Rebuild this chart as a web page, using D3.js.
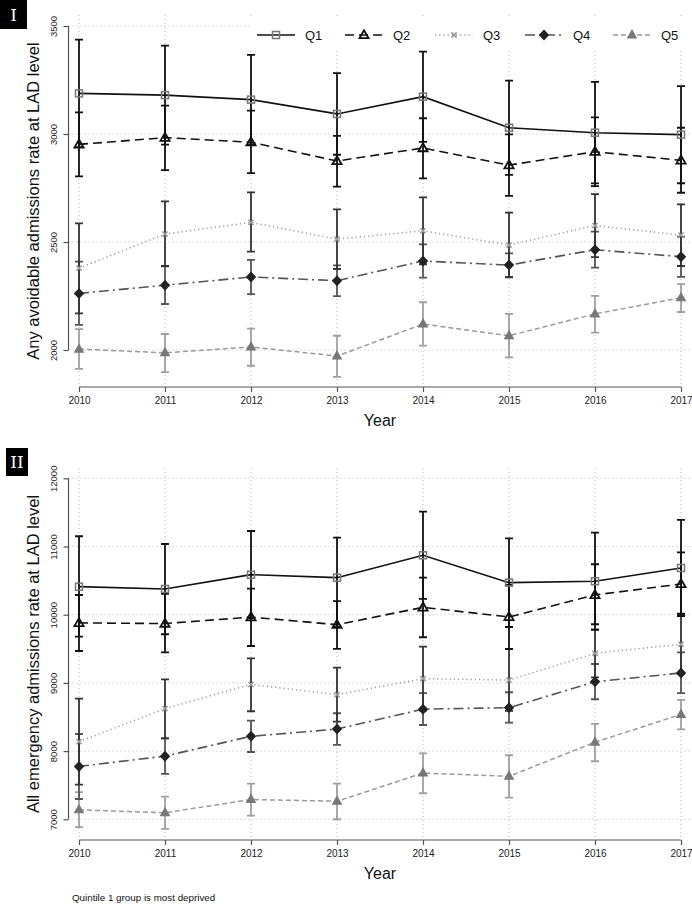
<!DOCTYPE html>
<html><head><meta charset="utf-8">
<script src="https://cdn.jsdelivr.net/npm/d3@7"></script>
<style>body{margin:0;background:#fff}svg{display:block}</style>
</head><body>
<svg id="c" width="692" height="904"></svg>
<script>
const years = [2010, 2011, 2012, 2013, 2014, 2015, 2016, 2017];
const quintiles = ["Q1", "Q2", "Q3", "Q4", "Q5"];

// Panel I: any avoidable admissions (mean, lower CI, upper CI)
const avoidMean = [
  [3188, 3180, 3159, 3093, 3173, 3029, 3006, 2997],
  [2952, 2983, 2962, 2875, 2935, 2856, 2918, 2878],
  [2379, 2537, 2591, 2513, 2552, 2486, 2576, 2532],
  [2262, 2300, 2338, 2321, 2412, 2393, 2464, 2432],
  [2004, 1987, 2014, 1972, 2120, 2066, 2167, 2242]
];
const avoidLo = [
  [2939, 2951, 2952, 2904, 2964, 2811, 2771, 2772],
  [2804, 2833, 2819, 2756, 2795, 2714, 2759, 2728],
  [2170, 2389, 2455, 2375, 2397, 2336, 2430, 2389],
  [2116, 2213, 2259, 2249, 2335, 2339, 2381, 2339],
  [1913, 1898, 1927, 1876, 2020, 1966, 2080, 2176]
];
const avoidHi = [
  [3437, 3409, 3366, 3282, 3381, 3247, 3241, 3222],
  [3100, 3131, 3108, 2991, 3073, 2998, 3077, 3029],
  [2586, 2688, 2730, 2651, 2707, 2636, 2722, 2674],
  [2409, 2387, 2417, 2392, 2489, 2447, 2548, 2525],
  [2097, 2074, 2099, 2066, 2221, 2167, 2251, 2305]
];
const avoidTicks = [2000, 2500, 3000, 3500];

// Panel II: all emergency admissions
const emergMean = [
  [10411, 10377, 10587, 10543, 10871, 10470, 10490, 10685],
  [9880, 9870, 9965, 9854, 10108, 9967, 10290, 10450],
  [8139, 8622, 8978, 8828, 9063, 9041, 9434, 9566],
  [7776, 7926, 8217, 8323, 8615, 8636, 9016, 9146],
  [7139, 7095, 7290, 7265, 7678, 7630, 8130, 8538]
];
const emergLo = [
  [9678, 9713, 9947, 9825, 10231, 9820, 9777, 9981],
  [9468, 9449, 9541, 9500, 9669, 9497, 9860, 10015],
  [7509, 8188, 8584, 8433, 8595, 8590, 9082, 9130],
  [7298, 7666, 7987, 8090, 8383, 8417, 8760, 8849],
  [6884, 6859, 7054, 7001, 7382, 7318, 7851, 8320]
];
const emergHi = [
  [11150, 11037, 11227, 11129, 11511, 11120, 11203, 11389],
  [10289, 10304, 10382, 10200, 10543, 10437, 10740, 10915],
  [8769, 9053, 9361, 9223, 9531, 9497, 9786, 10000],
  [8251, 8188, 8447, 8555, 8849, 8863, 9277, 9449],
  [7397, 7333, 7523, 7523, 7968, 7939, 8399, 8750]
];
const emergTicks = [7000, 8000, 9000, 10000, 11000, 12000];

const FONT = "'Liberation Sans', Arial, Helvetica, sans-serif";
const styles = [
  {line:"#111", w:1.6, dash:null, err:"#111", marker:"square"},
  {line:"#111", w:1.6, dash:"9,5", err:"#111", marker:"tri"},
  {line:"#9a9a9a", w:1.5, dash:"1.2,3", err:"#333", marker:"x"},
  {line:"#555", w:1.6, dash:"10,4,2,4", err:"#555", marker:"diamond"},
  {line:"#9a9a9a", w:1.5, dash:"5,3", err:"#a0a0a0", marker:"tri5"}
];

const svg = d3.select("#c");

function drawMarker(g, type, cx, cy) {
  if (type === "square") {
    g.append("rect").attr("x", cx-3.5).attr("y", cy-3.5).attr("width", 7).attr("height", 7)
      .attr("fill", "none").attr("stroke", "#777").attr("stroke-width", 1.5);
  } else if (type === "tri") {
    g.append("path").attr("d", `M${cx},${cy-4.8}L${cx+4.6},${cy+3.2}L${cx-4.6},${cy+3.2}Z`)
      .attr("fill", "none").attr("stroke", "#111").attr("stroke-width", 1.8);
  } else if (type === "x") {
    g.append("path").attr("d", `M${cx-2.6},${cy-2.6}L${cx+2.6},${cy+2.6}M${cx-2.6},${cy+2.6}L${cx+2.6},${cy-2.6}`)
      .attr("stroke", "#999").attr("stroke-width", 1.5);
  } else if (type === "diamond") {
    g.append("path").attr("d", `M${cx},${cy-5.5}L${cx+5.2},${cy}L${cx},${cy+5.5}L${cx-5.2},${cy}Z`)
      .attr("fill", "#222");
  } else if (type === "tri5") {
    g.append("path").attr("d", `M${cx},${cy-6}L${cx+5.3},${cy+3.5}L${cx-5.3},${cy+3.5}Z`)
      .attr("fill", "#777");
  }
}

function panel(opts) {
  const x = d3.scaleLinear().domain([2010, 2017]).range([79, 681]);
  const y = d3.scaleLinear().domain(opts.domain).range(opts.yRange);
  const g = svg.append("g");
  const axisX = 68.5;

  // grid
  g.selectAll(".hg").data(opts.ticks).enter().append("line")
    .attr("x1", axisX).attr("x2", 690).attr("y1", d => y(d)).attr("y2", d => y(d))
    .attr("stroke", "#b5b5b5").attr("stroke-width", 1).attr("stroke-dasharray", "1,3");
  g.selectAll(".vg").data(years).enter().append("line")
    .attr("x1", d => x(d)).attr("x2", d => x(d)).attr("y1", opts.top).attr("y2", opts.axisY)
    .attr("stroke", "#b5b5b5").attr("stroke-width", 1).attr("stroke-dasharray", "1,3");

  // Y axis
  const ya = g.append("g").attr("transform", `translate(${axisX},0)`)
    .call(d3.axisLeft(y).tickValues(opts.ticks).tickSize(5).tickFormat(d3.format("d")));
  ya.select(".domain").attr("stroke", "#555").attr("stroke-width", 1.2)
    .attr("d", `M0,${y(opts.ticks[opts.ticks.length-1])}V${y(opts.ticks[0])}`);
  ya.selectAll(".tick line").attr("stroke", "#555").attr("stroke-width", 1.2);
  ya.selectAll(".tick text").attr("font-family", FONT).attr("font-size", 9.5).attr("fill", "#222")
    .attr("x", null).attr("dy", null)
    .attr("text-anchor", "middle")
    .attr("transform", "translate(-11.5,0) rotate(-90)");

  // X axis
  const xa = g.append("g").attr("transform", `translate(0,${opts.axisY})`)
    .call(d3.axisBottom(x).tickValues(years).tickSize(5).tickFormat(d3.format("d")));
  xa.select(".domain").attr("stroke", "#555").attr("stroke-width", 1.2)
    .attr("d", `M${x(2010)},0H${x(2017)}`);
  xa.selectAll(".tick line").attr("stroke", "#555").attr("stroke-width", 1.2);
  xa.selectAll(".tick text").attr("font-family", FONT).attr("font-size", 10).attr("fill", "#222")
    .attr("dy", null).attr("y", 17);

  // labels
  g.append("text").attr("transform", `translate(39,${(opts.top + opts.axisY)/2}) rotate(-90)`)
    .attr("text-anchor", "middle").attr("font-family", FONT).attr("font-size", 16.5).attr("fill", "#111")
    .text(opts.ylabel);
  g.append("text").attr("x", 380).attr("y", opts.axisY + 39).attr("text-anchor", "middle")
    .attr("font-family", FONT).attr("font-size", 16).attr("fill", "#111").text("Year");

  // error bars
  for (let q = 4; q >= 0; q--) {
    const s = styles[q];
    const eg = g.append("g").attr("stroke", s.err).attr("stroke-width", 1.8).attr("fill", "none");
    years.forEach((yr, i) => {
      const cx = x(yr), lo = y(opts.lo[q][i]), hi = y(opts.hi[q][i]);
      eg.append("path").attr("d", `M${cx},${lo}V${hi}M${cx-4},${lo}H${cx+4}M${cx-4},${hi}H${cx+4}`);
    });
  }
  // lines & markers
  for (let q = 4; q >= 0; q--) {
    const s = styles[q];
    const line = d3.line().x((d, i) => x(years[i])).y(d => y(d));
    g.append("path").datum(opts.mean[q]).attr("d", line).attr("fill", "none")
      .attr("stroke", s.line).attr("stroke-width", s.w).attr("stroke-dasharray", s.dash);
    const mg = g.append("g");
    opts.mean[q].forEach((v, i) => drawMarker(mg, s.marker, x(years[i]), y(v)));
  }

  // panel tag
  svg.append("rect").attr("x", opts.tag.x).attr("y", opts.tag.y).attr("width", opts.tag.w).attr("height", opts.tag.h).attr("fill", "#000");
  svg.append("text").attr("x", opts.tag.x + opts.tag.w/2).attr("y", opts.tag.y + opts.tag.h/2 + 6)
    .attr("text-anchor", "middle").attr("font-family", "'DejaVu Serif', 'Liberation Serif', serif")
    .attr("font-size", 17).attr("fill", "#fff").text(opts.tag.label);
  return {x, y, g};
}

const p1 = panel({
  domain: [2000, 3500], yRange: [350, 26], ticks: avoidTicks, top: 15, axisY: 387,
  mean: avoidMean, lo: avoidLo, hi: avoidHi,
  ylabel: "Any avoidable admissions rate at LAD level",
  tag: {x: 0, y: 0, w: 27, h: 29, label: "I"}
});
panel({
  domain: [7000, 12000], yRange: [819.3, 478.3], ticks: emergTicks, top: 468, axisY: 840,
  mean: emergMean, lo: emergLo, hi: emergHi,
  ylabel: "All emergency admissions rate at LAD level",
  tag: {x: 6, y: 448, w: 22, h: 28, label: "II"}
});

// legend (panel I)
const lg = svg.append("g");
lg.append("rect").attr("x", 250).attr("y", 18).attr("width", 442).attr("height", 30).attr("fill", "#fff");
const legX = [257, 345, 435, 525, 613];
quintiles.forEach((name, q) => {
  const s = styles[q];
  const x0 = legX[q], ly = 35;
  lg.append("line").attr("x1", x0).attr("x2", x0 + 38).attr("y1", ly).attr("y2", ly)
    .attr("stroke", s.line).attr("stroke-width", s.w).attr("stroke-dasharray", s.dash);
  drawMarker(lg, s.marker, x0 + 19, ly);
  lg.append("text").attr("x", x0 + 48).attr("y", ly + 4.8).attr("font-family", FONT)
    .attr("font-size", 13).attr("fill", "#111").text(name);
});

svg.append("text").attr("x", 72).attr("y", 901).attr("font-family", FONT).attr("font-size", 9.8)
  .attr("fill", "#111").text("Quintile 1 group is most deprived");
</script>
</body></html>
